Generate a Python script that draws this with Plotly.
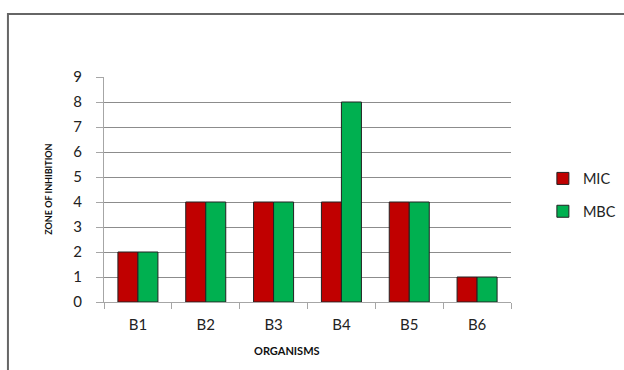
import plotly.graph_objects as go

categories = ["B1", "B2", "B3", "B4", "B5", "B6"]
mic = [2, 4, 4, 4, 4, 1]
mbc = [2, 4, 4, 8, 4, 1]
y_ticks = [0, 1, 2, 3, 4, 5, 6, 7, 8, 9]

FONT = "Lato, 'Open Sans', sans-serif"

fig = go.Figure()
fig.add_trace(go.Bar(name="MIC", x=categories, y=mic, marker=dict(color="#C00000", line=dict(color="#222222", width=1)),
                     legendgroup="a"))
fig.add_trace(go.Bar(name="MBC", x=categories, y=mbc, marker=dict(color="#00B050", line=dict(color="#222222", width=1)),
                     legendgroup="b"))

fig.update_layout(
    width=624, height=370,
    margin=dict(l=104, r=113, t=77, b=68, autoexpand=False),
    paper_bgcolor="white", plot_bgcolor="white",
    barmode="group", bargap=0.41, bargroupgap=0,
    font=dict(family=FONT, size=15, color="#222222"),
    showlegend=True,
    legend=dict(xref="container", yref="container", x=0.87, xanchor="left", y=0.473, yanchor="middle",
                traceorder="grouped", tracegroupgap=11, font=dict(size=14.5, color="#222222"), itemwidth=30),
    xaxis=dict(type="category", showline=True, linecolor="#a6a6a6", linewidth=1,
               ticks="outside", tickson="boundaries", ticklen=6, tickcolor="#a6a6a6",
               showgrid=False, ticklabelstandoff=9, tickfont=dict(size=15)),
    yaxis=dict(range=[0, 9], tickvals=y_ticks, showline=True, linecolor="#a6a6a6", linewidth=1,
               ticks="outside", ticklen=7, tickcolor="#a6a6a6",
               showgrid=True, gridcolor="#8c8c8c", gridwidth=1, zeroline=False,
               ticklabelstandoff=11, tickfont=dict(size=15)),
    annotations=[
        dict(text="<b>ZONE OF INHIBITION</b>", xref="paper", yref="paper", x=-0.137, y=0.5,
             textangle=-90, showarrow=False, font=dict(size=9, color="#111111"),
             xanchor="center", yanchor="middle"),
        dict(text="<b>ORGANISMS</b>", xref="paper", yref="paper", x=0.449, y=-0.214,
             showarrow=False, font=dict(size=11, color="#111111"),
             xanchor="center", yanchor="middle"),
    ],
    shapes=[
        dict(type="line", xref="paper", yref="paper", x0=-0.236, x1=1.30, y0=1.28, y1=1.28,
             line=dict(color="#666666", width=2)),
        dict(type="line", xref="paper", yref="paper", x0=-0.236, x1=-0.236, y0=1.284, y1=-0.31,
             line=dict(color="#666666", width=2)),
    ],
)

fig.write_html("out.html")
